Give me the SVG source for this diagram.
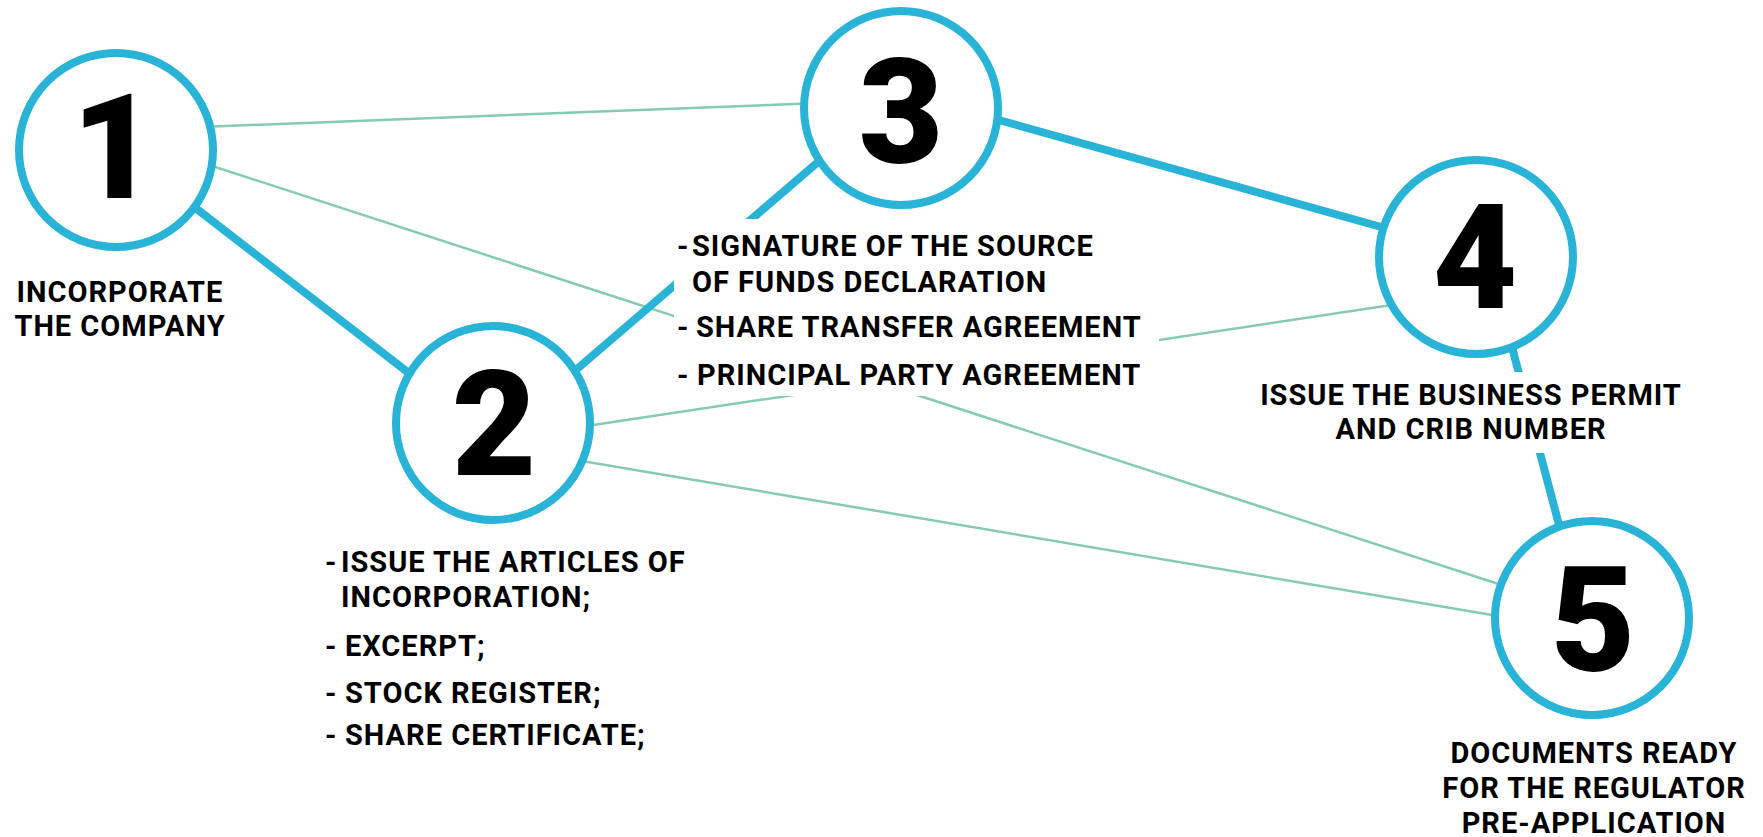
<svg xmlns="http://www.w3.org/2000/svg" width="1763" height="837" viewBox="0 0 1763 837">
<style>
.thin{stroke:#84CBB0;stroke-width:2.5;fill:none}
.thick{stroke:#29B3D6;stroke-width:8;fill:none}
.ring{fill:#fff;stroke:#29B3D6;stroke-width:8}
.num{font-family:Roboto,"Liberation Sans",sans-serif;font-weight:900;font-size:146px;fill:#000;text-anchor:middle}
.lbl{font-family:Roboto,"Liberation Sans",sans-serif;font-weight:bold;font-size:29px;letter-spacing:1px;fill:#000}
.c{text-anchor:middle}
</style>
<rect width="1763" height="837" fill="#fff"/>
<g id="connectors">
<line class="thin" x1="200" y1="127" x2="820" y2="103"/>
<line class="thin" x1="200" y1="162" x2="1520" y2="591"/>
<line class="thin" x1="580" y1="427" x2="1405" y2="303"/>
<line class="thin" x1="570" y1="459" x2="1510" y2="618"/>
<line class="thick" x1="180" y1="196" x2="423" y2="384"/>
<line class="thick" x1="563" y1="381" x2="832" y2="150"/>
<line class="thick" x1="981" y1="115" x2="1399" y2="232"/>
<line class="thick" x1="1508" y1="332" x2="1563" y2="540"/>
</g>
<rect x="674" y="219" width="485" height="177" fill="#fff"/>
<rect x="1250" y="372" width="440" height="81" fill="#fff"/>
<g id="node1">
<circle class="ring" cx="116" cy="150" r="97"/>
<text class="num" x="114" y="198">1</text>
<text class="lbl c" x="120" y="302">INCORPORATE</text>
<text class="lbl c" x="120" y="336">THE COMPANY</text>
</g>
<g id="node2">
<circle class="ring" cx="493" cy="423" r="97"/>
<text class="num" x="494" y="475">2</text>
<text class="lbl" x="325" y="572">-</text>
<text class="lbl" x="341" y="572">ISSUE THE ARTICLES OF</text>
<text class="lbl" x="341" y="607">INCORPORATION;</text>
<text class="lbl" x="325" y="656">-</text>
<text class="lbl" x="345" y="656">EXCERPT;</text>
<text class="lbl" x="325" y="703">-</text>
<text class="lbl" x="345" y="703">STOCK REGISTER;</text>
<text class="lbl" x="325" y="745">-</text>
<text class="lbl" x="345" y="745">SHARE CERTIFICATE;</text>
</g>
<g id="node3">
<circle class="ring" cx="901" cy="108" r="97"/>
<text class="num" x="901" y="163">3</text>
<text class="lbl" x="677" y="256">-</text>
<text class="lbl" x="692" y="256">SIGNATURE OF THE SOURCE</text>
<text class="lbl" x="692" y="292">OF FUNDS DECLARATION</text>
<text class="lbl" x="677" y="337">-</text>
<text class="lbl" x="696" y="337">SHARE TRANSFER AGREEMENT</text>
<text class="lbl" x="677" y="385">-</text>
<text class="lbl" x="697" y="385">PRINCIPAL PARTY AGREEMENT</text>
</g>
<g id="node4">
<circle class="ring" cx="1476" cy="257" r="97"/>
<text class="num" x="1475" y="308">4</text>
<text class="lbl c" x="1471" y="405">ISSUE THE BUSINESS PERMIT</text>
<text class="lbl c" x="1471" y="439">AND CRIB NUMBER</text>
</g>
<g id="node5">
<circle class="ring" cx="1592" cy="618" r="97"/>
<text class="num" x="1593" y="671">5</text>
<text class="lbl c" x="1594" y="763">DOCUMENTS READY</text>
<text class="lbl c" x="1594" y="798">FOR THE REGULATOR</text>
<text class="lbl c" x="1594" y="833">PRE-APPLICATION</text>
</g>
</svg>
